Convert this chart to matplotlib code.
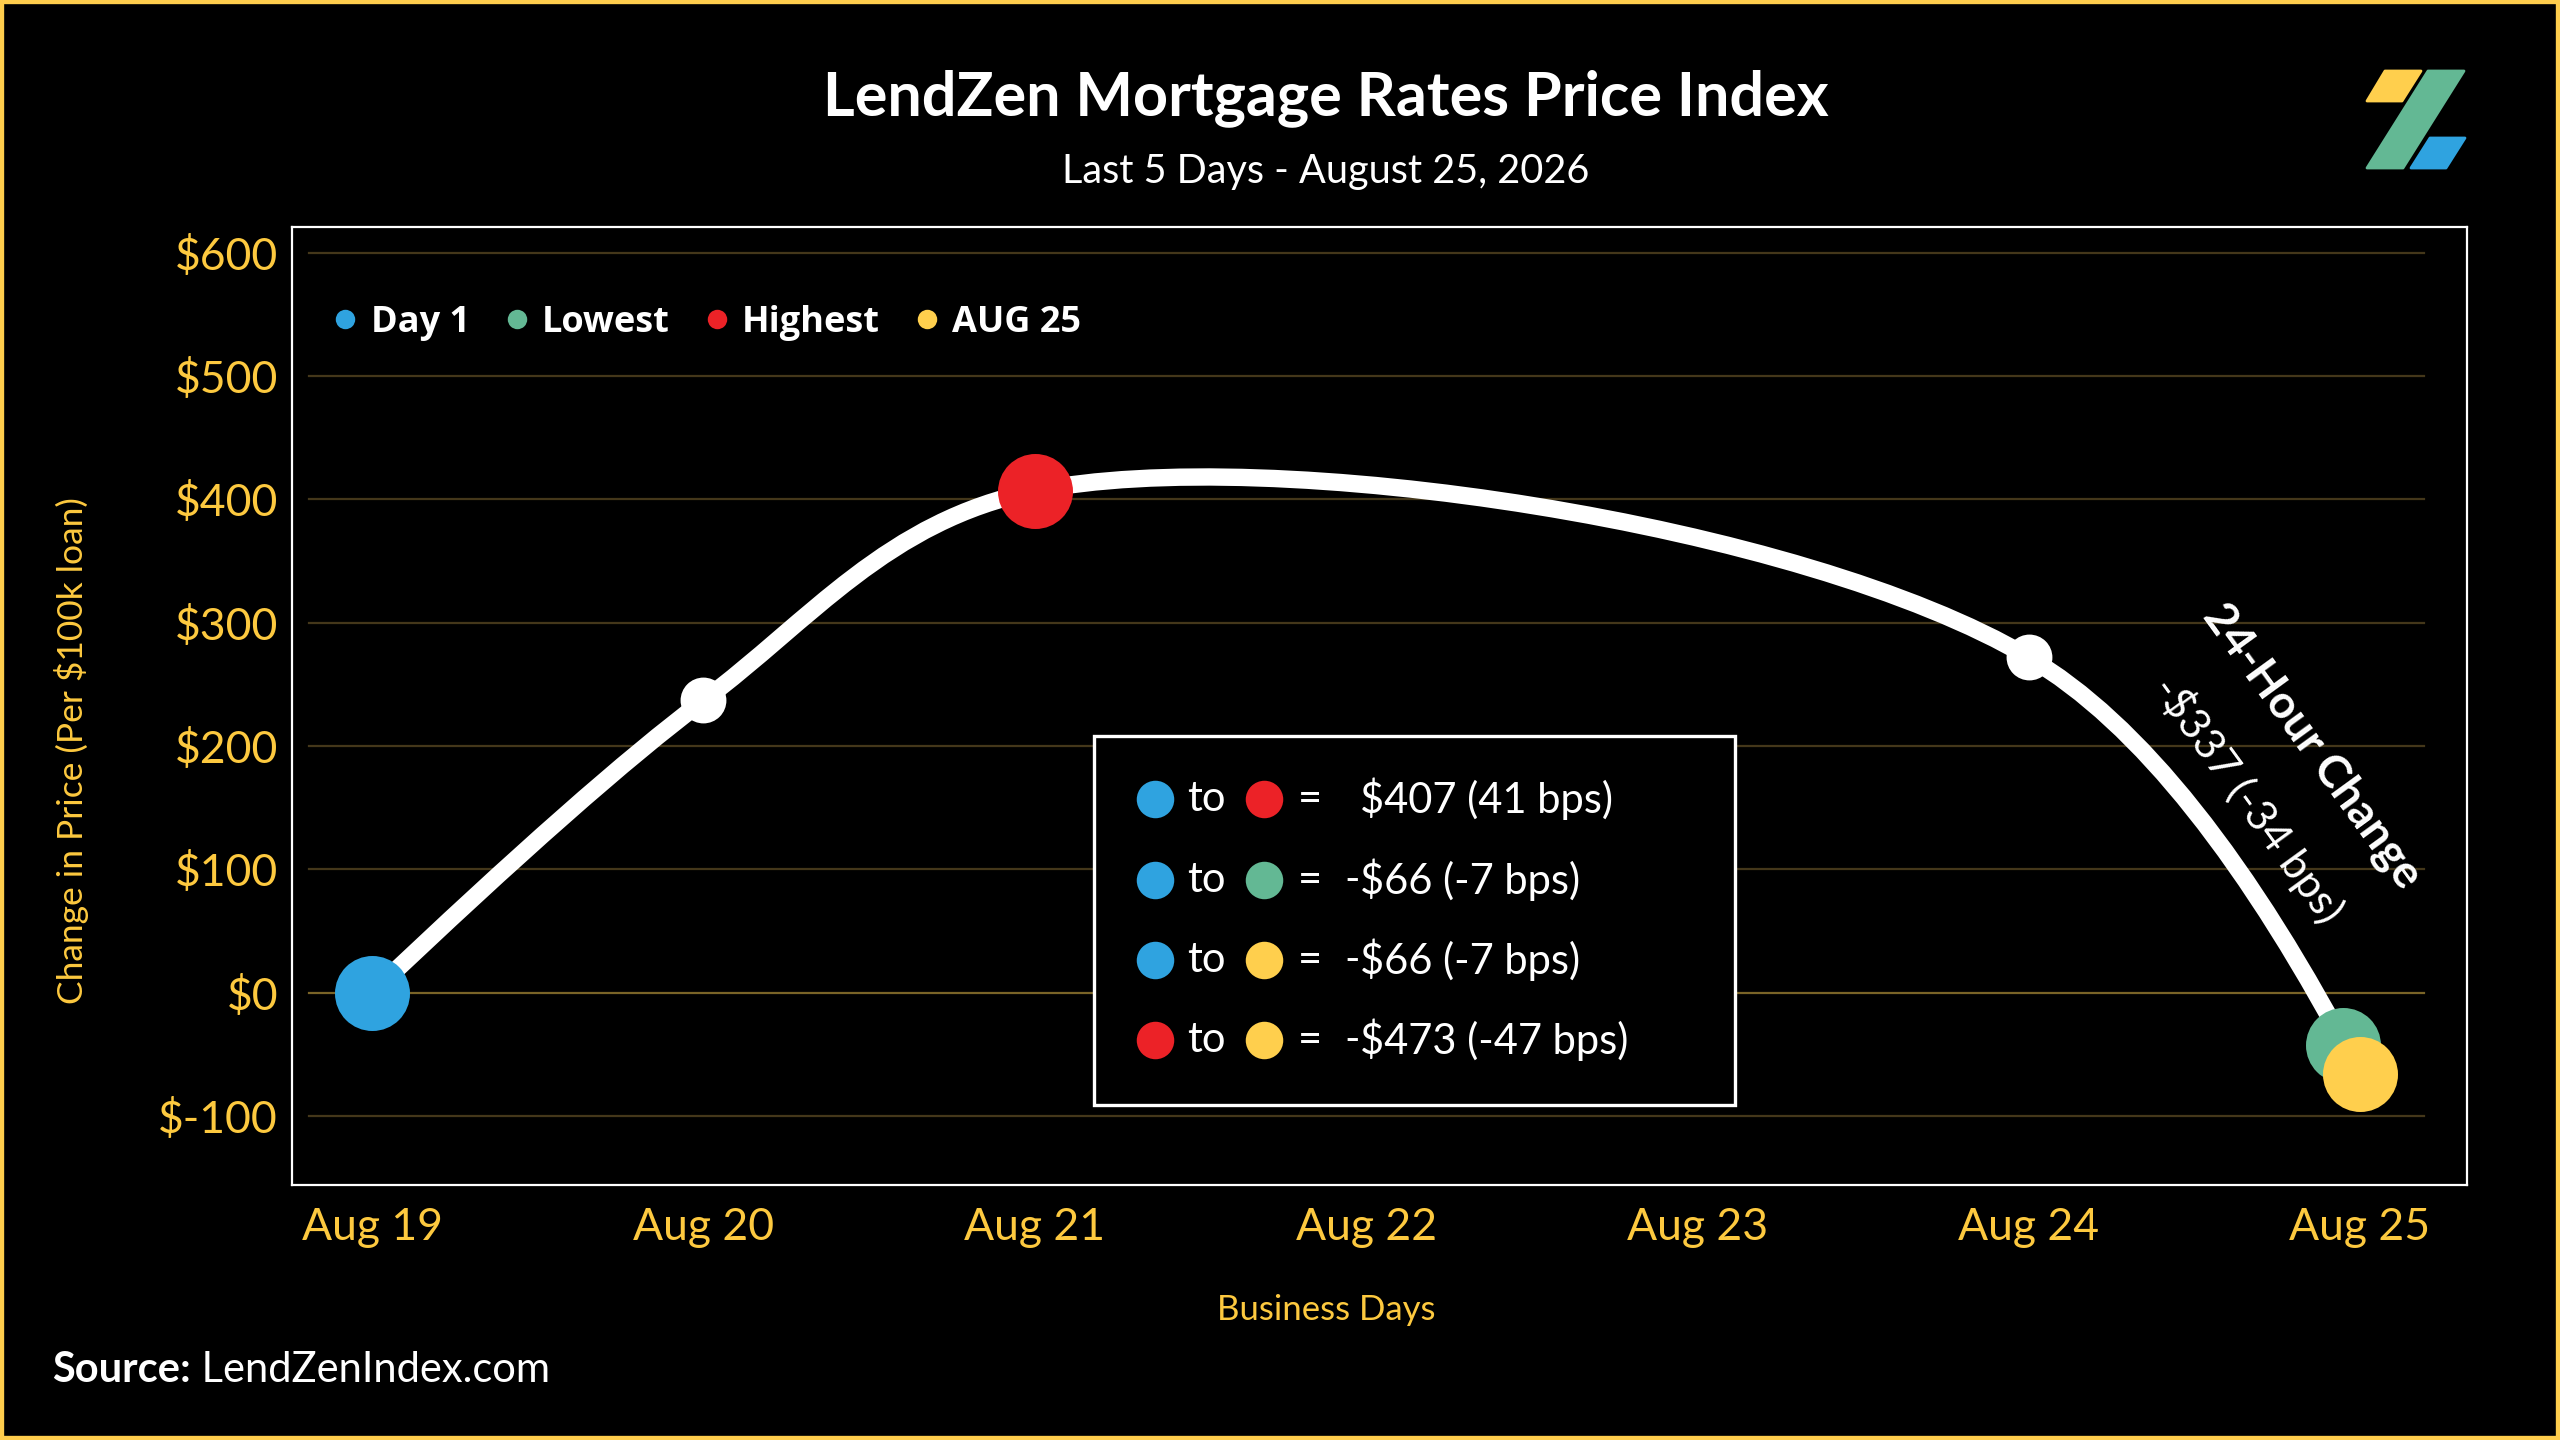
import numpy as np
import matplotlib
matplotlib.use('Agg')
import matplotlib.pyplot as plt
from matplotlib.path import Path
from matplotlib.patches import PathPatch, Rectangle, Polygon
from matplotlib.lines import Line2D
from matplotlib.ticker import FuncFormatter
from matplotlib.transforms import offset_copy

# ---- data ----
axis_days = ['Aug 19', 'Aug 20', 'Aug 21', 'Aug 22', 'Aug 23', 'Aug 24', 'Aug 25']
business_days = ['Aug 19', 'Aug 20', 'Aug 21', 'Aug 24', 'Aug 25']
price_change = [0, 237, 407, 272, -66]

day1_value = 0
lowest_value = -66
highest_value = 407
latest_value = -66
highest_day = 'Aug 21'
lowest_day = 'Aug 25'

y_ticks = [-100, 0, 100, 200, 300, 400, 500, 600]

legend_labels = ['Day 1', 'Lowest', 'Highest', 'AUG 25']

summary_from = ['Day 1', 'Day 1', 'Day 1', 'Highest']
summary_to = ['Highest', 'Lowest', 'AUG 25', 'AUG 25']
summary_dollars = [407, -66, -66, -473]
summary_bps = [41, -7, -7, -47]

change_24h_dollars = -337
change_24h_bps = -34

# ---- style ----
W, H = 2560, 1440
GOLD = '#FDC93F'
BG = '#000000'
colors = {'Day 1': '#2FA3E0', 'Lowest': '#63B894',
          'Highest': '#EC2227', 'AUG 25': '#FFCF4D'}

plt.rcParams['font.family'] = ['Lato', 'DejaVu Sans']


def fpx(x, y):
    # pixel position (from top-left) -> figure fraction
    return x / W, 1 - y / H


def make_tangent(prev, cur, nxt, smooth=1.0):
    # plotly-style centripetal catmull-rom control points
    d1 = prev - cur
    d2 = nxt - cur
    d1a = np.hypot(*d1) ** 0.5
    d2a = np.hypot(*d2) ** 0.5
    num = (d2a ** 2 * d1 - d1a ** 2 * d2) * smooth
    den1 = 3 * d2a * (d1a + d2a)
    den2 = 3 * d1a * (d1a + d2a)
    return cur + num / den1, cur - num / den2


def money(v):
    return ('-' if v < 0 else ''), f'${abs(v)}'


fig = plt.figure(figsize=(W / 100, H / 100), dpi=100, facecolor=BG)
ax = fig.add_axes([292 / W, 1 - 1185 / H, (2467 - 292) / W, (1185 - 227) / H])
ax.set_facecolor(BG)
ax.set_xlim(-0.242, 6.323)
ax.set_ylim(-156, 621)
ax.autoscale(False)

for s in ax.spines.values():
    s.set_color('white')
    s.set_linewidth(1.6)

# grid
for t in y_ticks:
    ax.axhline(t, xmin=0.008, xmax=0.98, color='#7A6427' if t == 0 else '#44371A',
               lw=1.6, zorder=1)

ax.set_xticks(range(len(axis_days)))
ax.set_xticklabels(axis_days)
ax.set_yticks(y_ticks)
ax.yaxis.set_major_formatter(FuncFormatter(lambda v, p: f'${int(v)}'))
ax.tick_params(axis='both', length=0, colors=GOLD, labelsize=32)
ax.tick_params(axis='y', pad=10)
ax.tick_params(axis='x', pad=16)

# smoothed line
xs = np.array([axis_days.index(d) for d in business_days], dtype=float)
pts = ax.transData.transform(np.column_stack([xs, price_change]))
tans = [make_tangent(pts[i - 1], pts[i], pts[i + 1]) for i in range(1, len(pts) - 1)]
verts = [pts[0], tans[0][0], pts[1]]
codes = [Path.MOVETO, Path.CURVE3, Path.CURVE3]
for i in range(1, len(pts) - 2):
    verts += [tans[i - 1][1], tans[i][0], pts[i + 1]]
    codes += [Path.CURVE4] * 3
verts += [tans[-1][1], pts[-1]]
codes += [Path.CURVE3] * 2
verts = ax.transData.inverted().transform(np.array(verts))
ax.add_patch(PathPatch(Path(verts, codes), fill=False, edgecolor='white', lw=12.5,
                       capstyle='round', zorder=3))

ax.plot(xs, price_change, 'o', ms=33, color='white', mec='none', zorder=4)
ax.plot(xs[0], day1_value, 'o', ms=54, color=colors['Day 1'], mec='none', zorder=5)
ax.plot(axis_days.index(highest_day), highest_value, 'o', ms=54,
        color=colors['Highest'], mec='none', zorder=5)
shifted = offset_copy(ax.transData, fig=fig, x=-17, y=29, units='dots')
ax.plot(axis_days.index(lowest_day), lowest_value, 'o', ms=54, color=colors['Lowest'],
        mec='none', zorder=5, transform=shifted, clip_on=False)
ax.plot(xs[-1], latest_value, 'o', ms=54, color=colors['AUG 25'], mec='none', zorder=6,
        clip_on=False)

# legend
handles = [Line2D([], [], marker='o', ls='', ms=14, color=colors[l], mec='none')
           for l in legend_labels]
leg = ax.legend(handles, legend_labels, loc='center left', bbox_to_anchor=(0.017, 0.9),
                ncol=4, frameon=False, handletextpad=0.25, columnspacing=0.85,
                handlelength=0.9, borderpad=0, borderaxespad=0,
                prop={'family': ['Open Sans', 'DejaVu Sans'], 'weight': 'bold', 'size': 26})
for t in leg.get_texts():
    t.set_color('white')

# summary box
bx0, by0 = fpx(1094, 1105)
bx1, by1 = fpx(1735, 736)
fig.add_artist(Rectangle((bx0, by0), bx1 - bx0, by1 - by0, transform=fig.transFigure,
                         facecolor=BG, edgecolor='white', lw=2.4, zorder=2))
row_y = [799, 880, 960, 1040]
for i in range(len(summary_dollars)):
    y = row_y[i]
    for cx, key in ((1155, summary_from[i]), (1264, summary_to[i])):
        fig.add_artist(Line2D([cx / W], [1 - y / H], marker='o', ls='', ms=27,
                              color=colors[key], mec='none', transform=fig.transFigure,
                              zorder=3))
    fig.text(*fpx(1206, y), 'to', color='white', fontsize=30, ha='center', va='center',
             zorder=3)
    fig.text(*fpx(1310, y), '=', color='white', fontsize=30, ha='center', va='center',
             zorder=3)
    sign, amount = money(summary_dollars[i])
    fig.text(*fpx(1360, y), sign, color='white', fontsize=30, ha='right', va='center',
             zorder=3)
    fig.text(*fpx(1360, y), f'{amount} ({summary_bps[i]} bps)', color='white',
             fontsize=30, ha='left', va='center', zorder=3)

# 24-hour annotation
fig.text(*fpx(2312, 746), '24-Hour Change', color='white', fontsize=33,
         fontweight='bold', rotation=-54, rotation_mode='anchor', ha='center',
         va='center', zorder=3)
sign, amount = money(change_24h_dollars)
fig.text(*fpx(2248, 799), f'{sign}{amount} ({change_24h_bps} bps)', color='white',
         fontsize=31, rotation=-54, rotation_mode='anchor', ha='center', va='center',
         zorder=3)

# titles
fig.text(*fpx(1326, 98), 'LendZen Mortgage Rates Price Index', color='white',
         fontsize=44, fontweight='bold', ha='center', va='center')
fig.text(*fpx(1326, 171), 'Last 5 Days - August 25, 2026', color='white',
         fontsize=28.5, ha='center', va='center')
fig.text(*fpx(1326, 1310), 'Business Days', color=GOLD, fontsize=25,
         ha='center', va='center')
fig.text(*fpx(72, 751), 'Change in Price (Per $100k loan)', color=GOLD, fontsize=25.5,
         rotation=90, ha='center', va='center')

src = fig.text(*fpx(52, 1382), 'Source:', color='white', fontsize=30,
               fontweight='bold', ha='left', va='baseline')
fig.add_artist(plt.Annotation(' LendZenIndex.com', xy=(1, 0), xycoords=src,
                              color='white', fontsize=30, ha='left', va='bottom'))

# logo
logo = fig.add_axes([2355 / W, 1 - 180 / H, 120 / W, 120 / H])
logo.set_xlim(2355, 2475)
logo.set_ylim(180, 60)
logo.axis('off')
logo.add_patch(Polygon([(2367, 101), (2385, 71), (2421, 71), (2402, 101)],
                       closed=True, color=colors['AUG 25'], joinstyle='round', lw=2))
logo.add_patch(Polygon([(2367, 168), (2428, 71), (2464, 71), (2403, 168)],
                       closed=True, color=colors['Lowest'], joinstyle='round', lw=2))
logo.add_patch(Polygon([(2411, 168), (2430, 138), (2465, 138), (2446, 168)],
                       closed=True, color=colors['Day 1'], joinstyle='round', lw=2))

# yellow frame
fig.add_artist(Rectangle((0, 0), 1, 1, transform=fig.transFigure, fill=False,
                         edgecolor='#FFCD4C', lw=6, zorder=10))

fig.savefig('out.png', dpi=100, facecolor=BG)
